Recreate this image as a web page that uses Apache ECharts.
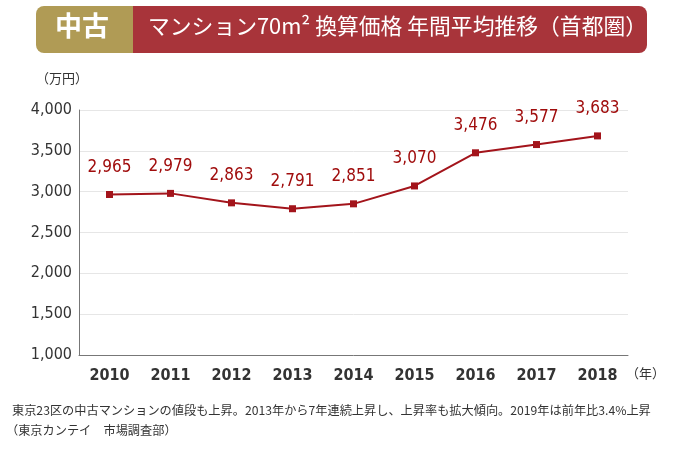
<!DOCTYPE html>
<html><head><meta charset="utf-8">
<script src="https://cdn.jsdelivr.net/npm/echarts@6/dist/echarts.min.js"></script>
<style>html,body{margin:0;padding:0;background:#fff}#c{width:678px;height:452px}</style>
</head><body><div id="c"></div>
<script>
const categories = ['2010','2011','2012','2013','2014','2015','2016','2017','2018'];
const prices = [2965, 2979, 2863, 2791, 2851, 3070, 3476, 3577, 3683];
const yTicks = [1000, 1500, 2000, 2500, 3000, 3500, 4000];

const numFont = "'DejaVu Sans Condensed','Liberation Sans Narrow',sans-serif";
const red = '#a3141b';

const chart = echarts.init(document.getElementById('c'));
chart.setOption({
  animation: false,
  grid: { left: 79, right: 50, top: 110, bottom: 97 },
  xAxis: {
    type: 'category', data: categories, boundaryGap: true,
    axisLine: { lineStyle: { color: '#777', width: 1 } },
    axisTick: { show: false },
    axisLabel: { color: '#333', fontSize: 16, fontFamily: numFont, fontWeight: 'bold', margin: 13 }
  },
  yAxis: {
    type: 'value', min: yTicks[0], max: yTicks[yTicks.length-1], interval: 500,
    axisLine: { show: true, lineStyle: { color: '#777', width: 1 } },
    axisTick: { show: false },
    splitLine: { lineStyle: { color: '#e6e6e6' } },
    axisLabel: { color: '#333', fontSize: 16, fontFamily: numFont, margin: 7,
      formatter: v => v.toLocaleString('en-US') }
  },
  series: [{
    type: 'line', data: prices,
    symbol: 'rect', symbolSize: 7,
    lineStyle: { color: red, width: 2 },
    itemStyle: { color: red },
    label: { show: true, position: 'top', distance: 15, color: '#a00d0d', fontSize: 17,
      fontFamily: numFont, formatter: p => p.value.toLocaleString('en-US') }
  }],
  graphic: [
    { type: 'rect', shape: { x: 36, y: 6, width: 110, height: 47, r: [8,0,0,8] }, style: { fill: '#b09b55' } },
    { type: 'rect', shape: { x: 133, y: 6, width: 514, height: 47, r: [0,8,8,0] }, style: { fill: '#a8343a' } },
    { type: 'text', left: 55, top: 12, style: { text: '中古', fill: '#fff', font: "bold 27px 'Noto Sans CJK JP'" } },
    { type: 'text', left: 148, top: 15, style: { text: 'マンション70m² 換算価格 年間平均推移（首都圏）', fill: '#fff', font: "21.8px 'Noto Sans CJK JP'" } },
    { type: 'text', left: 36, top: 72, style: { text: '（万円）', fill: '#333', font: "13px 'Noto Sans CJK JP'" } },
    { type: 'text', left: 626, top: 367, style: { text: '（年）', fill: '#333', font: "13px 'Noto Sans CJK JP'" } },
    { type: 'text', left: 12, top: 404, style: { text: '東京23区の中古マンションの値段も上昇。2013年から7年連続上昇し、上昇率も拡大傾向。2019年は前年比3.4%上昇', fill: '#333', font: "12.2px 'Noto Sans CJK JP'" } },
    { type: 'text', left: 6, top: 424, style: { text: '（東京カンテイ　市場調査部）', fill: '#333', font: "12.2px 'Noto Sans CJK JP'" } }
  ]
});
</script></body></html>
